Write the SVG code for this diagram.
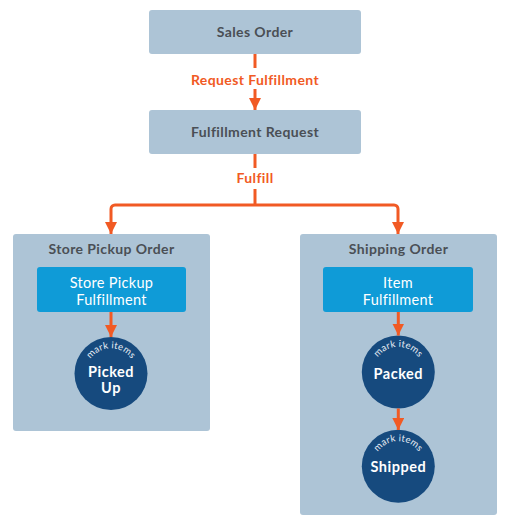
<svg xmlns="http://www.w3.org/2000/svg" xmlns:xlink="http://www.w3.org/1999/xlink" width="512" height="526" viewBox="0 0 512 526">
<style>
.box{fill:#adc4d6;}
.inner{fill:#0f9bd7;}
.circ{fill:#164a7e;}
.title{font-family:Lato,"Noto Sans",sans-serif;font-size:14px;font-weight:700;letter-spacing:0.4px;fill:#4a4f55;text-anchor:middle;}
.lbl{font-family:Lato,"Noto Sans",sans-serif;font-size:14px;font-weight:700;letter-spacing:0.4px;fill:#f15a24;text-anchor:middle;}
.wt{font-family:Lato,"Noto Sans",sans-serif;font-size:14.5px;font-weight:400;letter-spacing:0.3px;fill:#ffffff;text-anchor:middle;}
.big{font-family:Lato,"Noto Sans",sans-serif;font-size:14.5px;font-weight:700;letter-spacing:0.5px;fill:#ffffff;text-anchor:middle;}
.mark{font-family:Lato,"Noto Sans",sans-serif;font-size:9.5px;letter-spacing:0.2px;fill:#e8eef5;}
.line{fill:none;stroke:#f15a24;stroke-width:3;}
</style>
<defs>
<marker id="ah" markerUnits="userSpaceOnUse" markerWidth="14" markerHeight="12" refX="12" refY="6" orient="auto">
<path d="M0,0 L12,6 L0,12 Z" fill="#f15a24"/>
</marker>
<path id="arc" d="M-22,-12 A25,25 0 0 1 22,-12"/>
</defs>

<g id="sales-order">
<rect class="box" x="149" y="10" width="212" height="44" rx="3"/>
<text class="title" x="255" y="37">Sales Order</text>
</g>

<g id="fulfillment-request">
<rect class="box" x="149" y="110" width="212" height="44" rx="3"/>
<text class="title" x="255" y="137">Fulfillment Request</text>
</g>

<g id="store-pickup-order">
<rect class="box" x="13" y="234" width="197" height="197" rx="3"/>
<text class="title" x="111.5" y="254">Store Pickup Order</text>
</g>

<g id="shipping-order">
<rect class="box" x="300" y="234" width="197" height="281" rx="3"/>
<text class="title" x="398.5" y="254">Shipping Order</text>
</g>

<g id="store-pickup-fulfillment">
<rect class="inner" x="37" y="267" width="149" height="45" rx="3"/>
<text class="wt" x="111.5" y="287.5">Store Pickup</text>
<text class="wt" x="111.5" y="305">Fulfillment</text>
</g>

<g id="item-fulfillment">
<rect class="inner" x="323" y="267" width="150" height="45" rx="3"/>
<text class="wt" x="398" y="287.5">Item</text>
<text class="wt" x="398" y="305">Fulfillment</text>
</g>

<g id="picked-up">
<circle class="circ" cx="111" cy="373.5" r="36.5"/>
<text class="big" x="111" y="377">Picked</text>
<text class="big" x="111" y="393">Up</text>
<g transform="translate(111,373.5)"><text class="mark"><textPath xlink:href="#arc" href="#arc" startOffset="50%" text-anchor="middle">mark items</textPath></text></g>
</g>

<g id="packed">
<circle class="circ" cx="398.3" cy="372" r="36.5"/>
<text class="big" x="398.3" y="378.5">Packed</text>
<g transform="translate(398.3,372)"><text class="mark"><textPath xlink:href="#arc" href="#arc" startOffset="50%" text-anchor="middle">mark items</textPath></text></g>
</g>

<g id="shipped">
<circle class="circ" cx="398.3" cy="466.3" r="36.5"/>
<text class="big" x="398.3" y="471.5">Shipped</text>
<g transform="translate(398.3,466.3)"><text class="mark"><textPath xlink:href="#arc" href="#arc" startOffset="50%" text-anchor="middle">mark items</textPath></text></g>
</g>

<g id="connectors">
<line class="line" x1="255" y1="54" x2="255" y2="68"/>
<line class="line" x1="255" y1="89" x2="255" y2="110" marker-end="url(#ah)"/>
<text class="lbl" x="255" y="84.5">Request Fulfillment</text>
<line class="line" x1="255" y1="154" x2="255" y2="168"/>
<line class="line" x1="255" y1="189" x2="255" y2="205"/>
<text class="lbl" x="255" y="183">Fulfill</text>
<path class="line" d="M255,205 H115 A4,4 0 0 0 111,209 V234" marker-end="url(#ah)"/>
<path class="line" d="M255,205 H394 A4,4 0 0 1 398,209 V234" marker-end="url(#ah)"/>
<line class="line" x1="111" y1="312" x2="111" y2="337" marker-end="url(#ah)"/>
<line class="line" x1="398.3" y1="312" x2="398.3" y2="335.5" marker-end="url(#ah)"/>
<line class="line" x1="398.3" y1="408.5" x2="398.3" y2="430" marker-end="url(#ah)"/>
</g>
</svg>
